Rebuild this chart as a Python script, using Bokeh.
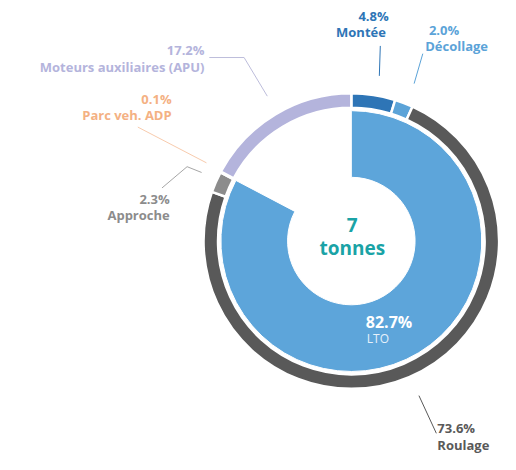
import numpy as np
from bokeh.plotting import figure
from bokeh.models import Range1d
from bokeh.core.properties import value
from bokeh.embed import file_html
from bokeh.resources import INLINE

# ---------------- data ----------------
outer_labels = ["Montée", "Décollage", "Roulage", "Approche", "Parc veh. ADP", "Moteurs auxiliaires (APU)"]
outer_values = [4.8, 2.0, 73.6, 2.3, 0.1, 17.2]
outer_colors = ["#2E75B6", "#5BA3D8", "#595959", "#8C8C8C", "#F4B183", "#B4B4DC"]
label_colors = ["#2E75B6", "#5BA3D8", "#595959", "#8C8C8C", "#F4B183", "#B4B4DC"]
inner_label = "LTO"
inner_value = 82.7
inner_color = "#5DA5DA"
total_value = "7"
total_unit = "tonnes"

# ---------------- layout (reference pixel coords, y downwards) ----------------
W, H = 500, 454
REF_H = 470
S = 0.966          # screen px per layout unit
AX, BY = 5, 1      # screen offsets


def Y(y):
    return REF_H - y


CX, CY = 358, 248
R_OUT, R_OUT_IN = 153, 138
R_IN_OUT, R_HOLE = 135, 66

p = figure(width=W, height=H, output_backend="svg", toolbar_location=None,
           x_range=Range1d(-AX / S, (W - AX) / S),
           y_range=Range1d(REF_H - (H - BY) / S, REF_H + BY / S),
           min_border=0, background_fill_color="white", border_fill_color="white")
p.axis.visible = False
p.grid.visible = False
p.outline_line_color = None

# outer ring
fr = np.array(outer_values) / sum(outer_values)
cum = np.concatenate([[0], np.cumsum(fr)])
starts = np.pi / 2 - 2 * np.pi * cum[:-1]
ends = np.pi / 2 - 2 * np.pi * cum[1:]
p.annular_wedge(x=[CX] * len(fr), y=[Y(CY)] * len(fr), inner_radius=R_OUT_IN, outer_radius=R_OUT,
                start_angle=list(starts), end_angle=list(ends), direction="clock",
                fill_color=outer_colors, line_color="white", line_width=2.5)

# inner ring (LTO)
f_in = inner_value / 100.0
p.annular_wedge(x=[CX], y=[Y(CY)], inner_radius=R_HOLE, outer_radius=R_IN_OUT,
                start_angle=[np.pi / 2], end_angle=[np.pi / 2 - 2 * np.pi * f_in], direction="clock",
                fill_color=inner_color, line_color="white", line_width=1)

FONT = value("Open Sans")
fmt = lambda v: f"{v:.1f}%"

# label placements: (pct x, pct y, name x, name y, align)
place = {
    0: (381, 15, 368, 32, "center"),
    1: (454, 29, 467, 46, "center"),
    2: (447, 442, 447, 459, "left"),
    3: (170, 204, 170, 221, "right"),
    4: (172, 101, 172, 118, "right"),
    5: (206, 50, 206, 68, "right"),
}
for i, (px, py, nx, ny, al) in place.items():
    p.text(x=[px, nx], y=[Y(py), Y(ny)], text=[fmt(outer_values[i]), outer_labels[i]],
           text_font=FONT, text_font_style="bold", text_font_size="13px",
           text_color=label_colors[i], text_align=al, text_baseline="middle")

# leader lines
leaders = [
    ([388, 387], [46, 77], "#2E75B6"),
    ([432, 423], [54, 85], "#5BA3D8"),
    ([211, 247, 271], [58, 58, 98], "#BDBDDB"),
    ([137, 208], [130, 167], "#F8CBAD"),
    ([162, 188, 203], [193, 171, 177], "#A6A6A6"),
    ([428, 446], [408, 447], "#595959"),
]
for xs, ys, c in leaders:
    p.line(x=xs, y=[Y(v) for v in ys], line_color=c, line_width=1)

# centre text
p.text(x=[359, 359], y=[Y(231), Y(255)], text=[total_value, total_unit],
       text_font=FONT, text_font_style="bold", text_font_size="19px",
       text_color="#1AA3A6", text_align="center", text_baseline="middle")

# LTO text
p.text(x=[373], y=[Y(332)], text=[fmt(inner_value)], text_font=FONT, text_font_style="bold",
       text_font_size="16px", text_color="white", text_align="left", text_baseline="middle")
p.text(x=[374], y=[Y(349)], text=[inner_label], text_font=FONT, text_font_size="12px",
       text_color="#E6F1FA", text_align="left", text_baseline="middle")

open("out.html", "w").write(file_html(p, INLINE))
